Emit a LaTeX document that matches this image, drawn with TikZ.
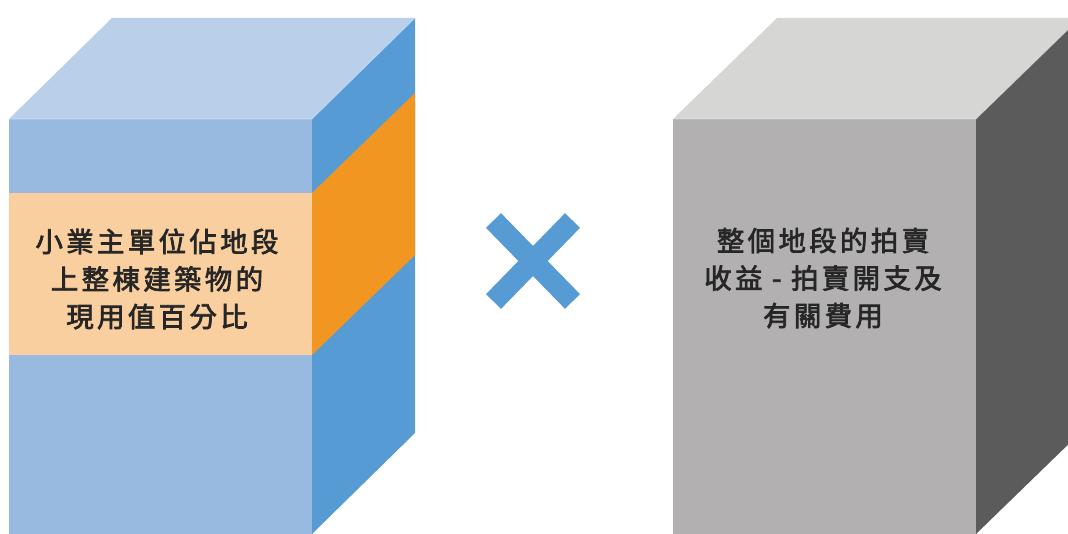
\documentclass[tikz,border=0pt]{standalone}
\usepackage{fontspec}
\newfontfamily\cjk{Noto Sans CJK TC}[LetterSpace=12,FakeBold=2.5]
\definecolor{ltop}{HTML}{B9CFEA}
\definecolor{lfront}{HTML}{98BAE0}
\definecolor{lside}{HTML}{579BD5}
\definecolor{ofront}{HTML}{F9CF9F}
\definecolor{oside}{HTML}{F09621}
\definecolor{gtop}{HTML}{D6D6D5}
\definecolor{gfront}{HTML}{B2B0B1}
\definecolor{gside}{HTML}{5B5B5B}
\definecolor{txt}{HTML}{262626}
\tikzset{
  facetxt/.style={font=\cjk\fontsize{27.5}{37.5}\selectfont, text=txt, align=center, inner sep=0pt},
  cross/.style={draw=lside, line width=21pt, line cap=butt}
}
\begin{document}
\begin{tikzpicture}[x=1pt,y=-1pt]
\useasboundingbox (0,0) rectangle (1068,534);
% left cube
\coordinate (LA) at (9,119);
\coordinate (LB) at (312,119);
\fill[ltop] (LA) -- (112,18) -- (415,18) -- (LB) -- cycle;
\fill[lfront] (LA) rectangle (312,534);
\fill[lside] (LB) -- (415,18) -- (415,433) -- (312,534) -- cycle;
\fill[ofront] (9,193) rectangle (312,355);
\fill[oside] (312,193) -- (415,93) -- (415,255) -- (312,355) -- cycle;
\draw[white, opacity=0.4, line width=0.8pt] (LA) -- (LB) -- (415,18);
\node[facetxt] (lt) at (157,279) {小業主單位佔地段\\上整棟建築物的\\現用值百分比};
% cross
\coordinate (c1) at (493.5,220.5);
\coordinate (c2) at (572.5,301.5);
\coordinate (c3) at (572.5,220.5);
\coordinate (c4) at (493.5,301.5);
\draw[cross] (c1) -- (c2);
\draw[cross] (c3) -- (c4);
% right cube
\begin{scope}
\clip (0,0) rectangle (1068,534);
\coordinate (RA) at (673,119);
\coordinate (RB) at (976,119);
\fill[gtop] (RA) -- (777,18) -- (1080,18) -- (RB) -- cycle;
\fill[gfront] (RA) rectangle (976,534);
\fill[gside] (RB) -- (1080,18) -- (1080,433) -- (976,534) -- cycle;
\draw[white, opacity=0.4, line width=0.8pt] (RA) -- (RB) -- (1080,18);
\end{scope}
\node[facetxt] (rt) at (823,278) {整個地段的拍賣\\收益 - 拍賣開支及\\有關費用};
\end{tikzpicture}
\end{document}
